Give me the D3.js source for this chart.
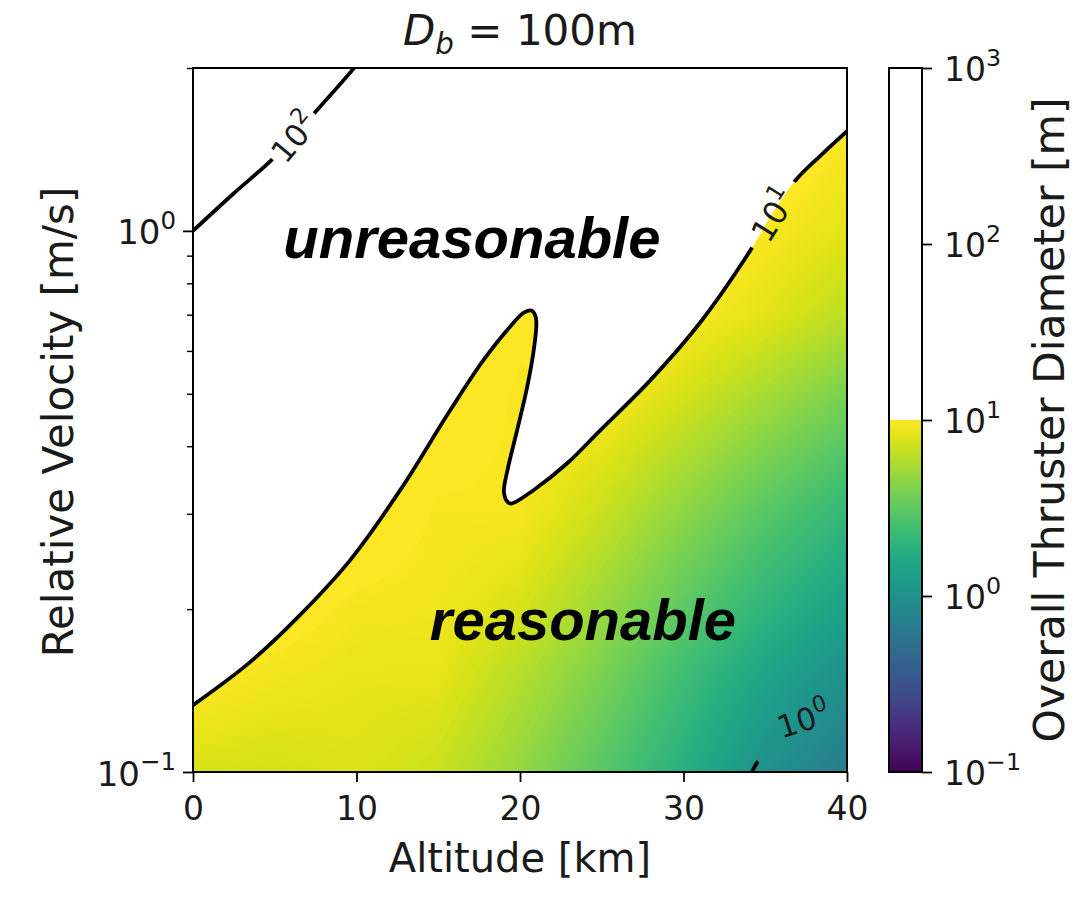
<!DOCTYPE html>
<html>
<head>
<meta charset="utf-8">
<title>D_b = 100m</title>
<script src="https://cdn.jsdelivr.net/npm/d3@7"></script>
<style>
  body { margin: 0; background: #fff; }
  text { font-family: "DejaVu Sans", sans-serif; fill: #1a1a1a; }
</style>
</head>
<body>
<script>
// ---- data ----
// grid of the sampled field: altitude columns [km], velocity rows [m/s]
const altitudes = [0, 5, 10, 15, 20, 25, 30, 35, 40];
const velocities = [0.1, 0.15, 0.2, 0.3, 0.5, 0.7, 1.0, 1.5, 2.0];
// log10 of overall thruster diameter [m], one row per velocity (lowest first)
const logDiameter = [
  [0.88, 0.87, 0.90, 0.84, 0.68, 0.48, 0.26, 0.00, -0.16],
  [1.02, 0.96, 0.93, 0.93, 0.78, 0.60, 0.38, 0.17, 0.00],
  [1.12, 1.04, 0.97, 0.96, 0.88, 0.70, 0.50, 0.30, 0.14],
  [1.30, 1.18, 1.06, 0.98, 0.98, 0.84, 0.66, 0.48, 0.32],
  [1.55, 1.40, 1.25, 1.04, 0.98, 1.00, 0.88, 0.74, 0.60],
  [1.70, 1.55, 1.40, 1.20, 1.00, 1.05, 1.00, 0.92, 0.80],
  [2.00, 1.75, 1.55, 1.38, 1.25, 1.15, 1.08, 0.99, 0.92],
  [2.20, 2.00, 1.80, 1.60, 1.45, 1.30, 1.18, 1.08, 0.99],
  [2.40, 2.20, 2.00, 1.78, 1.60, 1.44, 1.30, 1.18, 1.08]
];

// contour lines [altitude km, velocity m/s]
const contour10 = [
  [0, 0.1329], [3.49, 0.1596], [6.54, 0.1949], [9.60, 0.2461], [12.66, 0.3314],
  [15.72, 0.4655], [17.74, 0.5755], [19.39, 0.665], [20.24, 0.7061], [20.73, 0.7117],
  [20.98, 0.6881], [20.86, 0.6082], [20.43, 0.5132], [19.82, 0.4276], [19.27, 0.3653],
  [19.02, 0.3286], [19.27, 0.3149], [19.51, 0.3135], [20.80, 0.3314], [22.87, 0.3716],
  [24.89, 0.4276], [27.95, 0.5287], [31.01, 0.6765], [34.07, 0.9185], [35.41, 1.075],
  [36.82, 1.237], [38.35, 1.375], [40, 1.529]
];
const contour100 = [[0, 1.0], [2.45, 1.17], [4.89, 1.36], [7.34, 1.64], [9.79, 1.99], [10.1, 2.05]];
const contour1 = [[34.2, 0.1], [34.5, 0.104], [37.0, 0.122], [39.9, 0.146], [40, 0.150]];

// contour labels: exponent, altitude, velocity
const labelExp = ["2", "1", "0"];
const labelAlt = [6.12, 35.41, 37.31];
const labelVel = [1.497, 1.075, 0.1258];

const xTicks = [0, 10, 20, 30, 40];
const yTicks = [0.1, 1];
const yTickExp = ["\u22121", "0"];
const yMinorTicks = [0.2, 0.3, 0.4, 0.5, 0.6, 0.7, 0.8, 0.9, 2];
const cbarTicks = [0.1, 1, 10, 100, 1000];
const cbarTickExp = ["\u22121", "0", "1", "2", "3"];

// ---- layout ----
const width = 1075, height = 899;
const plotL = 193, plotR = 847, plotT = 68, plotB = 772;
const cbLeft = 889, cbWidth = 33;

const svg = d3.select("body").append("svg")
  .attr("width", width)
  .attr("height", height);

const x = d3.scaleLinear().domain([0, 40]).range([plotL, plotR]);
const y = d3.scaleLog().domain([0.1, 2]).range([plotB, plotT]);
const color = d3.scaleSequential(d3.interpolateViridis).domain([-1, 1]).clamp(true);

const defs = svg.append("defs");
defs.append("clipPath").attr("id", "plotClip")
  .append("rect")
  .attr("x", plotL).attr("y", plotT)
  .attr("width", plotR - plotL).attr("height", plotB - plotT);

// ---- heatmap (bilinear shading between grid samples) ----
const W = plotR - plotL, H = plotB - plotT;
const canvas = document.createElement("canvas");
canvas.width = W; canvas.height = H;
const ctx = canvas.getContext("2d");
const img = ctx.createImageData(W, H);
const lut = d3.range(256).map(i => d3.rgb(color(-1 + 2 * i / 255)));
const logVel = velocities.map(Math.log10);
const nx = altitudes.length, ny = velocities.length;
for (let py = 0; py < H; py++) {
  const lv = Math.log10(y.invert(plotT + py + 0.5));
  const j = Math.max(0, Math.min(ny - 2, d3.bisectRight(logVel, lv) - 1));
  const fy = (lv - logVel[j]) / (logVel[j + 1] - logVel[j]);
  for (let px = 0; px < W; px++) {
    const a = x.invert(plotL + px + 0.5);
    const i = Math.max(0, Math.min(nx - 2, d3.bisectRight(altitudes, a) - 1));
    const fx = (a - altitudes[i]) / (altitudes[i + 1] - altitudes[i]);
    const g = logDiameter;
    const v = (1 - fy) * ((1 - fx) * g[j][i] + fx * g[j][i + 1]) +
              fy * ((1 - fx) * g[j + 1][i] + fx * g[j + 1][i + 1]);
    const k = Math.max(0, Math.min(255, Math.round((v + 1) / 2 * 255)));
    const c = lut[k];
    const o = (py * W + px) * 4;
    img.data[o] = c.r; img.data[o + 1] = c.g; img.data[o + 2] = c.b; img.data[o + 3] = 255;
  }
}
ctx.putImageData(img, 0, 0);
svg.append("image")
  .attr("x", plotL).attr("y", plotT)
  .attr("width", W).attr("height", H)
  .attr("preserveAspectRatio", "none")
  .attr("href", canvas.toDataURL());

// values above 10 m are drawn white
const line = d3.line()
  .x(d => x(d[0]))
  .y(d => y(d[1]))
  .curve(d3.curveCatmullRom.alpha(0.5));

svg.append("path")
  .attr("clip-path", "url(#plotClip)")
  .attr("d", line(contour10) + `L${x(40)},${plotT - 5}L${x(0)},${plotT - 5}Z`)
  .attr("fill", "#fff");

// ---- contour lines with gaps for their labels ----
const labelAngle = [-50, -58, -18];
const gapAngle = [-48, -58, -42];
const gapLen = [62, 78, 125];
const mask = defs.append("mask").attr("id", "labelGap")
  .attr("maskUnits", "userSpaceOnUse")
  .attr("x", 0).attr("y", 0).attr("width", width).attr("height", height);
mask.append("rect").attr("width", width).attr("height", height).attr("fill", "#fff");
labelExp.forEach((e, i) => {
  mask.append("rect")
    .attr("x", -gapLen[i] / 2).attr("y", -14)
    .attr("width", gapLen[i]).attr("height", 28)
    .attr("transform", `translate(${x(labelAlt[i])},${y(labelVel[i])}) rotate(${gapAngle[i]})`)
    .attr("fill", "#000");
});

const contours = svg.append("g")
  .attr("clip-path", "url(#plotClip)")
  .append("g")
  .attr("mask", "url(#labelGap)");
[contour10, contour100, contour1].forEach(c => {
  contours.append("path")
    .attr("d", line(c))
    .attr("fill", "none")
    .attr("stroke", "#000")
    .attr("stroke-width", 3.8)
    .attr("stroke-linejoin", "round");
});

function powLabel(sel, exp) {
  sel.append("tspan").text("10");
  sel.append("tspan").attr("font-size", "0.72em").attr("dy", "-0.62em").text(exp);
}

const labelSize = [31, 32, 31];
labelExp.forEach((e, i) => {
  svg.append("text")
    .attr("transform", `translate(${x(labelAlt[i])},${y(labelVel[i])}) rotate(${labelAngle[i]})`)
    .attr("text-anchor", "middle")
    .attr("dy", "0.42em")
    .attr("font-size", labelSize[i])
    .call(powLabel, e);
});

// ---- annotations ----
svg.append("text")
  .attr("x", x(17.06)).attr("y", y(0.89))
  .attr("text-anchor", "middle")
  .style("font-family", "'Liberation Sans', Arial, sans-serif")
  .style("font-weight", "bold").style("font-style", "italic")
  .style("fill", "#000")
  .attr("font-size", 58)
  .text("unreasonable");
svg.append("text")
  .attr("x", x(23.85)).attr("y", y(0.175))
  .attr("text-anchor", "middle")
  .style("font-family", "'Liberation Sans', Arial, sans-serif")
  .style("font-weight", "bold").style("font-style", "italic")
  .style("fill", "#000")
  .attr("font-size", 58)
  .text("reasonable");

// ---- axes ----
const xAxis = svg.append("g")
  .attr("transform", `translate(0,${plotB})`)
  .call(d3.axisBottom(x).tickValues(xTicks).tickSize(10).tickSizeOuter(0).tickPadding(15));
xAxis.select(".domain").remove();
xAxis.selectAll("line").attr("stroke", "#000").attr("stroke-width", 1.8);
xAxis.selectAll("text").attr("font-size", 33).style("font-family", "'DejaVu Sans'");

const yAxis = svg.append("g")
  .attr("transform", `translate(${plotL},0)`)
  .call(d3.axisLeft(y).tickValues(yTicks).tickSize(10).tickSizeOuter(0).tickFormat(""));
yAxis.select(".domain").remove();
yAxis.selectAll("line").attr("stroke", "#000").attr("stroke-width", 1.8);
yAxis.selectAll(".tick").each(function (d, i) {
  d3.select(this).append("text")
    .attr("x", -17).attr("y", 13)
    .attr("text-anchor", "end")
    .attr("font-size", 34)
    .style("fill", "#1a1a1a")
    .call(powLabel, yTickExp[i]);
});
const yMinor = svg.append("g")
  .attr("transform", `translate(${plotL},0)`)
  .call(d3.axisLeft(y).tickValues(yMinorTicks).tickSize(6).tickSizeOuter(0).tickFormat(""));
yMinor.select(".domain").remove();
yMinor.selectAll("line").attr("stroke", "#000").attr("stroke-width", 1.4);

// frame
svg.append("rect")
  .attr("x", plotL).attr("y", plotT)
  .attr("width", plotR - plotL).attr("height", plotB - plotT)
  .attr("fill", "none").attr("stroke", "#000").attr("stroke-width", 2);

// labels and title
svg.append("text")
  .attr("x", (plotL + plotR) / 2).attr("y", 872)
  .attr("text-anchor", "middle").attr("font-size", 40)
  .text("Altitude [km]");
svg.append("text")
  .attr("transform", `translate(73,${(plotT + plotB) / 2 + 2}) rotate(-90)`)
  .attr("text-anchor", "middle").attr("font-size", 42)
  .text("Relative Velocity [m/s]");

const title = svg.append("text")
  .attr("x", (plotL + plotR) / 2).attr("y", 45)
  .attr("text-anchor", "middle").attr("font-size", 42);
title.append("tspan").style("font-style", "italic").text("D");
title.append("tspan").style("font-style", "italic").attr("font-size", "0.7em").attr("dy", "0.3em").text("b");
title.append("tspan").attr("dy", "-0.21em").text(" = 100m");

// ---- colorbar ----
const cb = d3.scaleLog().domain([0.1, 1000]).range([plotB, plotT]);
const grad = defs.append("linearGradient").attr("id", "viridisGrad")
  .attr("gradientUnits", "userSpaceOnUse")
  .attr("x1", 0).attr("x2", 0)
  .attr("y1", cb(0.1)).attr("y2", cb(10));
d3.range(0, 1.0001, 0.05).forEach(t => {
  grad.append("stop").attr("offset", t).attr("stop-color", d3.interpolateViridis(t));
});
svg.append("rect")
  .attr("x", cbLeft).attr("y", cb(1000))
  .attr("width", cbWidth).attr("height", cb(10) - cb(1000))
  .attr("fill", "#fff");
svg.append("rect")
  .attr("x", cbLeft).attr("y", cb(10))
  .attr("width", cbWidth).attr("height", cb(0.1) - cb(10))
  .attr("fill", "url(#viridisGrad)");
svg.append("rect")
  .attr("x", cbLeft).attr("y", cb(1000))
  .attr("width", cbWidth).attr("height", cb(0.1) - cb(1000))
  .attr("fill", "none").attr("stroke", "#000").attr("stroke-width", 2);

const cbAxis = svg.append("g")
  .attr("transform", `translate(${cbLeft + cbWidth},0)`)
  .call(d3.axisRight(cb).tickValues(cbarTicks).tickSize(10).tickSizeOuter(0).tickFormat(""));
cbAxis.select(".domain").remove();
cbAxis.selectAll("line").attr("stroke", "#000").attr("stroke-width", 1.8);
cbAxis.selectAll(".tick").each(function (d, i) {
  d3.select(this).append("text")
    .attr("x", 22).attr("y", 12)
    .attr("text-anchor", "start")
    .attr("font-size", 33)
    .style("fill", "#1a1a1a")
    .call(powLabel, cbarTickExp[i]);
});
svg.append("text")
  .attr("transform", `translate(1064,${(plotT + plotB) / 2}) rotate(-90)`)
  .attr("text-anchor", "middle").attr("font-size", 42.5)
  .text("Overall Thruster Diameter [m]");
</script>
</body>
</html>
